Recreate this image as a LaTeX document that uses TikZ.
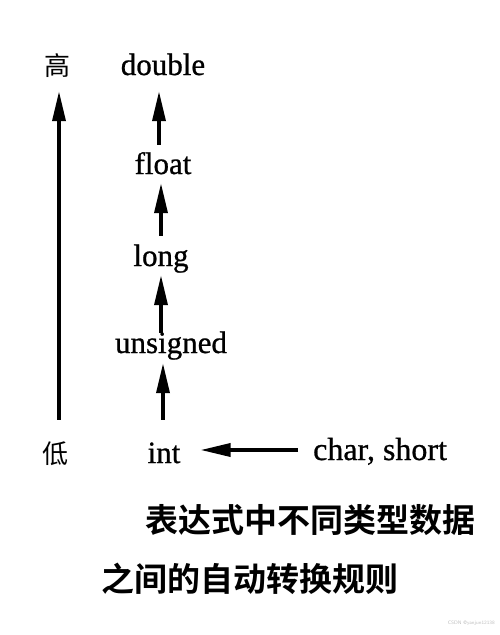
\documentclass[tikz,border=0pt]{standalone}
\usepackage{fontspec}
\setmainfont{Liberation Serif}[FakeBold=0.8]
\newfontfamily\cjk{Noto Sans CJK SC}
\newfontfamily\cjkb{Noto Sans CJK SC Bold}
\usetikzlibrary{arrows.meta}
\begin{document}
\begin{tikzpicture}[x=1pt,y=-1pt,
  typ/.style={inner sep=0pt,anchor=base,text height=20pt,text depth=0pt,font=\fontsize{31}{31}\selectfont},
  lvl/.style={inner sep=0pt,anchor=base,text height=20pt,text depth=0pt,font=\cjk\fontsize{26}{26}\selectfont},
  captext/.style={inner sep=0pt,anchor=base west,font=\cjkb\fontsize{33}{33}\selectfont},
  arr/.style={line width=3.5pt,-{Triangle[length=30pt,width=13pt]}},
  wm/.style={inner sep=0pt,anchor=base east,text=black!25,font=\sffamily\fontsize{5}{5}\selectfont}]
\useasboundingbox (0,0) rectangle (500,635);
\fill[white] (0,0) rectangle (500,635);
% level labels
\node[lvl] (high) at (57,75) {高};
\node[lvl] (low) at (55,463) {低};
% types
\node[typ] (double) at (163,75) {double};
\node[typ] (float) at (163,174) {float};
\node[typ] (long) at (161,266) {long};
\node[typ] (unsigned) at (171,353) {unsigned};
\node[typ] (int) at (164,463) {int};
\node[typ,anchor=base west,font=\fontsize{32}{32}\selectfont] (cs) at (313,460) {char, short};
% arrows
\draw[arr,shorten <=23pt,shorten >=16pt] ([xshift=4pt]low.north) -- ([xshift=4pt]low.north |- high.south);
\draw[arr,shorten <=9pt,shorten >=16pt] ([xshift=-4pt]float.north) -- ([xshift=-4pt]float.north |- double.south);
\draw[arr,shorten <=10pt,shorten >=9pt] (long.north) -- (long.north |- float.south);
\draw[arr,shorten >=9pt] (long.south |- unsigned.north) -- (long.south);
\draw[arr,shorten <=23pt,shorten >=10pt] ([xshift=-1pt]int.north) -- ([xshift=-1pt]int.north |- unsigned.south);
\draw[arr,shorten <=15pt,shorten >=20pt] (cs.west) -- (cs.west -| int.east);
% caption
\node[captext] (cap1) at (145,532) {表达式中不同类型数据};
\node[captext] (cap2) at (101,591) {之间的自动转换规则};
\node[wm] (mark) at (495,624) {CSDN @yanjun12138};
\end{tikzpicture}
\end{document}
